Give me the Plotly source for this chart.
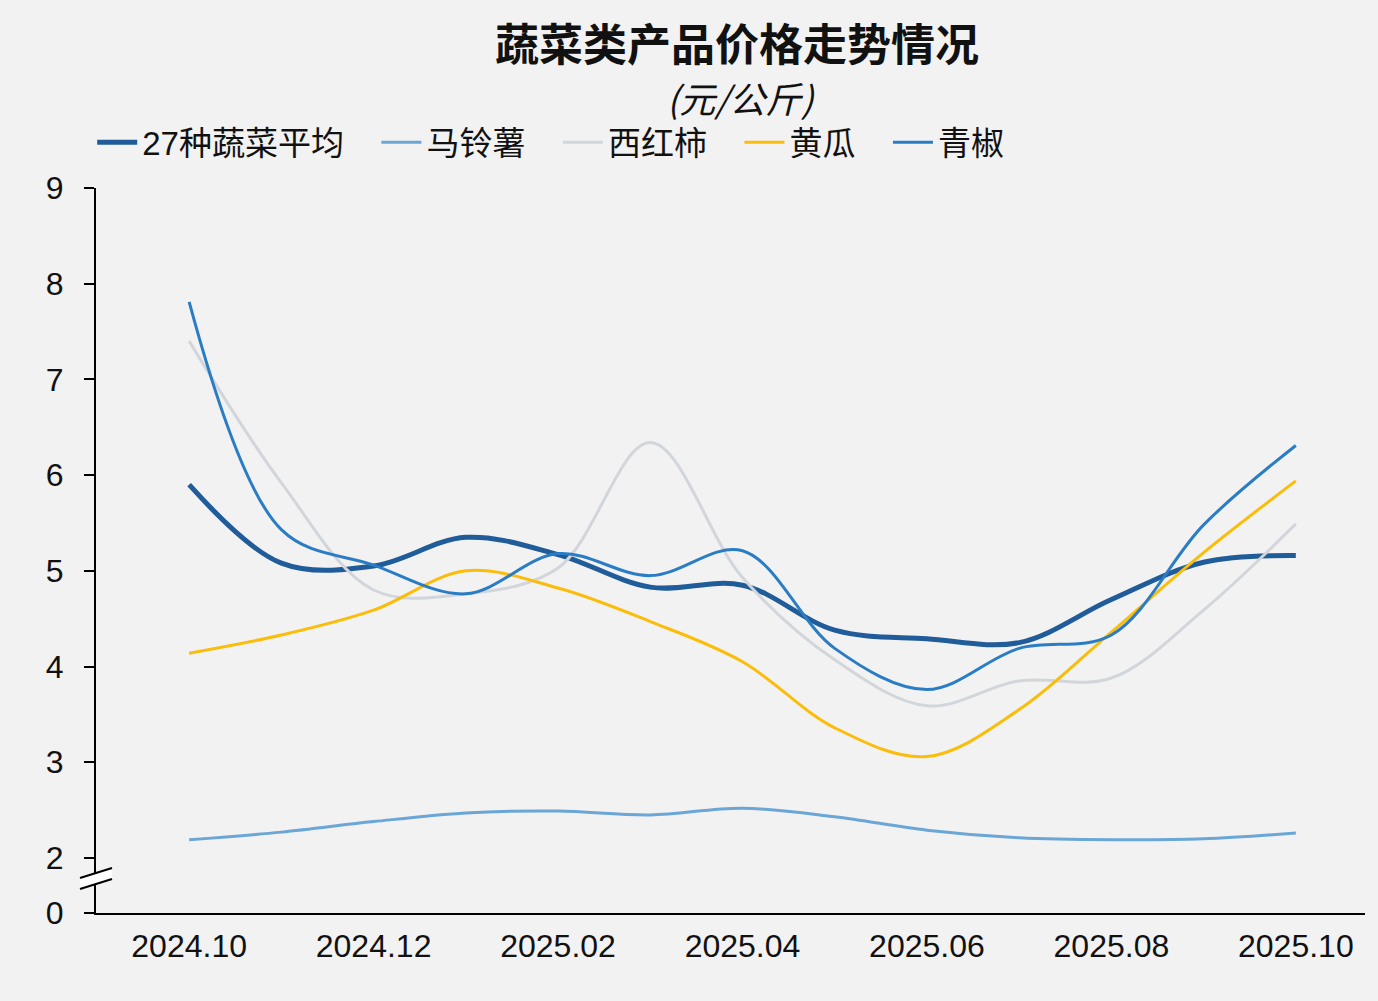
import plotly.graph_objects as go

months = ["2024.10", "2024.11", "2024.12", "2025.01", "2025.02", "2025.03", "2025.04",
          "2025.05", "2025.06", "2025.07", "2025.08", "2025.09", "2025.10"]
avg27 = [5.90, 5.08, 5.05, 5.35, 5.17, 4.83, 4.85, 4.38, 4.29, 4.25, 4.70, 5.09, 5.16]
potato = [2.19, 2.27, 2.38, 2.47, 2.49, 2.45, 2.52, 2.43, 2.29, 2.21, 2.19, 2.20, 2.26]
tomato = [7.40, 5.92, 4.80, 4.76, 5.03, 6.34, 4.93, 4.07, 3.59, 3.85, 3.88, 4.59, 5.49]
cucumber = [4.14, 4.33, 4.59, 5.00, 4.82, 4.47, 4.05, 3.36, 3.06, 3.55, 4.36, 5.19, 5.94]
pepper = [7.81, 5.43, 5.06, 4.76, 5.18, 4.95, 5.21, 4.19, 3.76, 4.19, 4.33, 5.48, 6.31]

tick_labels = ["2024.10", "2024.12", "2025.02", "2025.04", "2025.06", "2025.08", "2025.10"]
y_ticks = [2, 3, 4, 5, 6, 7, 8, 9]

series = [
    ("27种蔬菜平均", avg27, "#1f5c99", 5),
    ("马铃薯", potato, "#6aa6d6", 3),
    ("西红柿", tomato, "#d2d6db", 3),
    ("黄瓜", cucumber, "#fbbd0a", 3),
    ("青椒", pepper, "#2a7dc4", 3),
]

pad = "\u00a0\u00a0\u00a0"
x_idx = list(range(len(months)))
fig = go.Figure()
for i, (name, vals, color, w) in enumerate(series):
    label = name + (pad if i < len(series) - 1 else "")
    fig.add_trace(go.Scatter(
        x=x_idx, y=vals, name=label, mode="lines",
        line=dict(color=color, width=w, shape="spline", smoothing=1.0),
        hoverinfo="skip",
    ))

y_bottom = 1.425  # broken axis: shown as 0
tick_x = [months.index(t) for t in tick_labels]

font_main = "Liberation Sans, Arial, Noto Sans CJK SC, sans-serif"

fig.update_layout(
    width=1378, height=1001,
    paper_bgcolor="#f2f2f2", plot_bgcolor="#f2f2f2",
    margin=dict(l=96, r=13, t=188, b=88),
    showlegend=True,
    legend=dict(orientation="h", x=-0.003, xanchor="left", y=1.063, yanchor="middle",
                font=dict(family=font_main, size=33, color="#111111"),
                bgcolor="rgba(0,0,0,0)", itemwidth=40, tracegroupgap=0),
    xaxis=dict(range=[-1.01, 12.75], tickvals=tick_x, ticktext=tick_labels,
               showgrid=False, zeroline=False, showline=True, linecolor="#000000",
               linewidth=2, ticks="", tickfont=dict(family=font_main, size=32, color="#111111"),
               ticklabelstandoff=4),
    yaxis=dict(range=[y_bottom, 9], tickvals=[y_bottom] + y_ticks,
               ticktext=["0"] + [str(v) for v in y_ticks],
               showgrid=False, zeroline=False, showline=True, linecolor="#000000",
               linewidth=2, ticks="outside", ticklen=10, tickwidth=2, tickcolor="#000000",
               tickfont=dict(family=font_main, size=32, color="#111111"),
               ticklabelstandoff=14),
)

fig.add_annotation(text="<b>蔬菜类产品价格走势情况</b>", xref="paper", yref="paper",
                   x=(737 - 96) / 1269, y=1 + (188 - 42) / 725, xanchor="center", yanchor="middle",
                   showarrow=False, font=dict(family="Noto Sans CJK SC", size=44, color="#111111"))
fig.add_annotation(text="<i>(元/公斤)</i>", xref="paper", yref="paper",
                   x=(741 - 96) / 1269, y=1 + (188 - 97) / 725, xanchor="center", yanchor="middle",
                   showarrow=False, font=dict(family="Noto Sans CJK SC", size=36, color="#111111"))

# axis break marks
def px_to_paper_x(px):
    return (px - 96) / 1269

def py_to_paper_y(py):
    return (913 - py) / 725

x0, x1 = px_to_paper_x(80), px_to_paper_x(112)
top0, top1 = py_to_paper_y(878), py_to_paper_y(868)
bot0, bot1 = py_to_paper_y(889), py_to_paper_y(879)
fig.add_shape(type="path", xref="paper", yref="paper",
              path=f"M {x0} {top0} L {x1} {top1} L {x1} {bot1} L {x0} {bot0} Z",
              fillcolor="#ffffff", line=dict(width=0), layer="above")
fig.add_shape(type="line", xref="paper", yref="paper", x0=x0, y0=top0, x1=x1, y1=top1,
              line=dict(color="#000000", width=2), layer="above")
fig.add_shape(type="line", xref="paper", yref="paper", x0=x0, y0=bot0, x1=x1, y1=bot1,
              line=dict(color="#000000", width=2), layer="above")

fig.write_html("out.html")
